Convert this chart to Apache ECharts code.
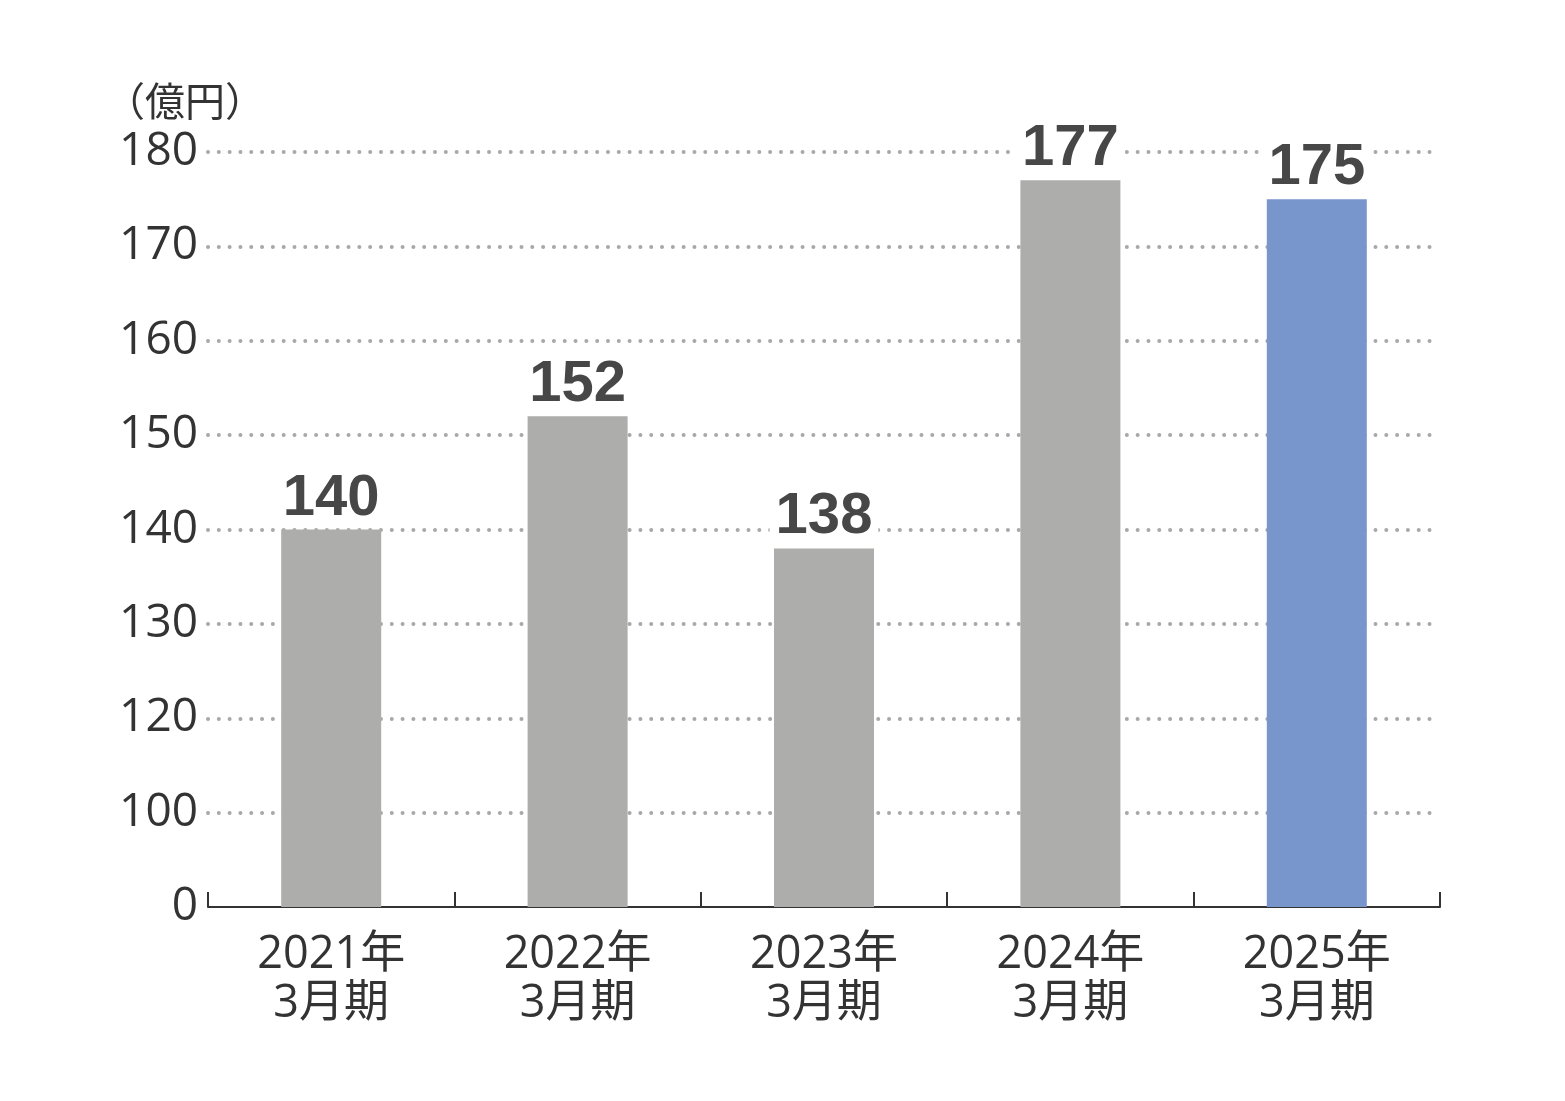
<!DOCTYPE html>
<html>
<head>
<meta charset="utf-8">
<script src="https://cdn.jsdelivr.net/npm/echarts@6/dist/echarts.min.js"></script>
<style>
html, body { margin: 0; padding: 0; background: #fff; }
#container { width: 1565px; height: 1101px; }
</style>
</head>
<body>
<div id="container"></div>
<script>
let categories = ['2021年\n3月期', '2022年\n3月期', '2023年\n3月期', '2024年\n3月期', '2025年\n3月期'];
let values = [140, 152, 138, 177, 175];
// broken axis: 0 at the bottom, then one step per 10 from 110 (labelled 100 in the original)
let yTickLabels = ['0', '100', '120', '130', '140', '150', '160', '170', '180'];
let barColors = ['#adadac', '#adadac', '#adadac', '#adadac', '#7896cc'];

function toAxis(v) {
    return (v - 100) / 10;
}

let textFont = '"Open Sans", "Noto Sans CJK JP", sans-serif';

let dom = document.getElementById('container');
let chart = echarts.init(dom);

chart.setOption({
    animation: false,
    title: {
        text: '（億円）',
        left: 100,
        top: 76,
        textStyle: {
            fontFamily: 'Noto Sans CJK JP',
            fontSize: 40,
            fontWeight: 'normal',
            color: '#333'
        }
    },
    grid: {
        left: 208,
        right: 125,
        top: 152,
        bottom: 194
    },
    xAxis: {
        type: 'category',
        data: categories,
        axisLine: { lineStyle: { color: '#333', width: 2 } },
        axisTick: {
            show: true,
            inside: true,
            length: 15,
            lineStyle: { color: '#333', width: 2 }
        },
        axisLabel: {
            margin: 24,
            fontFamily: textFont,
            fontSize: 45,
            lineHeight: 49,
            color: '#333'
        }
    },
    yAxis: {
        type: 'value',
        min: 0,
        max: 8,
        interval: 1,
        axisLine: { show: false },
        axisTick: { show: false },
        axisLabel: {
            margin: 10,
            fontFamily: textFont,
            fontSize: 46,
            color: '#333',
            formatter: (val) => yTickLabels[Math.round(val)]
        },
        splitLine: {
            showMinLine: false,
            lineStyle: {
                color: '#a8a8a8',
                width: 4,
                type: [0.01, 10.8],
                cap: 'round'
            }
        }
    },
    series: [{
        type: 'bar',
        barWidth: 100,
        data: values.map((v, i) => ({
            value: toAxis(v),
            itemStyle: { color: barColors[i] }
        })),
        label: {
            show: true,
            position: 'top',
            distance: 2,
            formatter: (p) => String(values[p.dataIndex]),
            fontFamily: 'Liberation Sans',
            fontWeight: 'bold',
            fontSize: 58,
            color: '#474747',
            backgroundColor: '#fff',
            padding: [0, 6, 0, 6]
        }
    }]
});
</script>
</body>
</html>
